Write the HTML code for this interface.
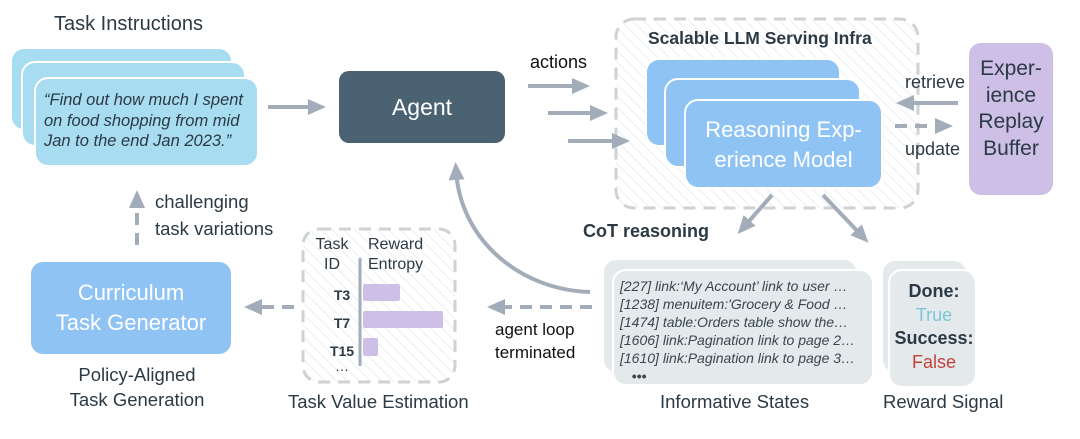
<!DOCTYPE html>
<html><head><meta charset="utf-8"><style>
body{margin:0;background:#fff;}
#c{position:relative;width:1080px;height:439px;overflow:hidden;font-family:"Liberation Sans",sans-serif;color:#2b3a44;}
.a{position:absolute;}
.card{position:absolute;border-radius:14px;border:2px solid #fff;box-sizing:border-box;}
.t{position:absolute;white-space:nowrap;}
</style></head><body><div id="c">
<svg class="a" style="left:0;top:0" width="1080" height="439">
<defs>
<pattern id="h" width="8" height="8" patternUnits="userSpaceOnUse" patternTransform="rotate(-45)"><line x1="0" y1="0" x2="0" y2="8" stroke="#eceef0" stroke-width="2"/></pattern>
<marker id="mb" markerWidth="18" markerHeight="16" refX="10" refY="8" orient="auto" markerUnits="userSpaceOnUse"><path d="M0,0 L18,8 L0,16 z" fill="#a3adba"/></marker>
</defs>
<rect x="616" y="19" width="302" height="189" rx="18" fill="url(#h)" stroke="#cfd2d5" stroke-width="3" stroke-dasharray="12,8"/>
<rect x="303" y="229" width="152" height="153" rx="16" fill="url(#h)" stroke="#cfd2d5" stroke-width="3" stroke-dasharray="12,8"/>
<g stroke="#a3adba" stroke-width="4" fill="none">
<line x1="268" y1="107" x2="318" y2="107" marker-end="url(#mb)"/>
<line x1="528" y1="86" x2="582" y2="86" marker-end="url(#mb)"/>
<line x1="548" y1="113" x2="600" y2="113" marker-end="url(#mb)"/>
<line x1="568" y1="141" x2="622" y2="141" marker-end="url(#mb)"/>
<line x1="958" y1="103" x2="904" y2="103" marker-end="url(#mb)"/>
<line x1="895" y1="126" x2="945" y2="126" stroke-dasharray="12,8" marker-end="url(#mb)"/>
<line x1="772" y1="195" x2="743" y2="228" marker-end="url(#mb)"/>
<line x1="823" y1="195" x2="863" y2="237" marker-end="url(#mb)"/>
<path d="M590,292 C520,290 460,240 456,170" marker-end="url(#mb)"/>
<line x1="592" y1="307" x2="495" y2="307" stroke-dasharray="12,8" marker-end="url(#mb)"/>
<line x1="294" y1="307" x2="252" y2="307" stroke-dasharray="12,8" marker-end="url(#mb)"/>
<line x1="137" y1="245" x2="137" y2="198" stroke-dasharray="12,8" marker-end="url(#mb)"/>
<line x1="360" y1="258" x2="360" y2="366" stroke-width="3"/>
</g>
<g fill="#cdbfe6"><rect x="363" y="284" width="37" height="17" rx="2"/><rect x="363" y="311" width="80" height="17" rx="2"/><rect x="363" y="338" width="15" height="18" rx="2"/></g>
</svg>
<div class="t" style="left:54px;top:13px;font-size:20px">Task Instructions</div>
<div class="card" style="left:10px;top:47px;width:223px;height:84px;background:#a8dcf0"></div>
<div class="card" style="left:21px;top:61px;width:225px;height:86px;background:#a8dcf0"></div>
<div class="card" style="left:34px;top:77px;width:225px;height:90px;background:#a8dcf0"></div>
<div class="t" style="left:44px;top:90px;font-size:16.5px;font-style:italic;line-height:20.5px;color:#2b3a44">“Find out how much I spent<br>on food shopping from mid<br>Jan to the end Jan 2023.”</div>
<div class="a" style="left:339px;top:71px;width:166px;height:72px;background:#4a6272;border-radius:10px;color:#fff;font-size:23px;text-align:center;line-height:72px">Agent</div>
<div class="t" style="left:530px;top:52px;font-size:18px;color:#111">actions</div>
<div class="t" style="left:648px;top:28px;font-size:17.5px;font-weight:bold;color:#2b3a44">Scalable LLM Serving Infra</div>
<div class="card" style="left:645px;top:58px;width:196px;height:89px;background:#8fc3f3"></div>
<div class="card" style="left:664px;top:78px;width:197px;height:90px;background:#8fc3f3"></div>
<div class="card" style="left:684px;top:99px;width:199px;height:90px;background:#8fc3f3"></div>
<div class="t" style="left:684px;top:115px;width:199px;text-align:center;font-size:22px;line-height:30px;color:#fff">Reasoning Exp-<br>erience Model</div>
<div class="t" style="left:905px;top:72px;font-size:18px">retrieve</div>
<div class="t" style="left:905px;top:139px;font-size:18px">update</div>
<div class="a" style="left:969px;top:43px;width:84px;height:152px;background:#cdbfe6;border-radius:12px;text-align:center;font-size:21px;line-height:26.5px;color:#2b3a44;padding-top:13px;box-sizing:border-box">Exper-<br>ience<br>Replay<br>Buffer</div>
<div class="t" style="left:583px;top:221px;font-size:18px;font-weight:bold">CoT reasoning</div>
<div class="card" style="left:602px;top:258px;width:256px;height:116px;background:#e4e9ec"></div>
<div class="card" style="left:612px;top:269px;width:262px;height:117px;background:#e4e9ec"></div>
<div class="t" style="left:620px;top:277px;font-size:14px;font-style:italic;line-height:18px;color:#3a4650">[227] link:‘My Account’ link to user …<br>[1238] menuitem:'Grocery &amp; Food …<br>[1474] table:Orders table show the…<br>[1606] link:Pagination link to page 2…<br>[1610] link:Pagination link to page 3…<br>&nbsp;&nbsp;&nbsp;<b>•••</b></div>
<div class="card" style="left:881px;top:259px;width:87px;height:115px;background:#e4e9ec"></div>
<div class="card" style="left:888px;top:269px;width:89px;height:119px;background:#e4e9ec"></div>
<div class="t" style="left:888px;top:280px;width:92px;text-align:center;font-size:18px;line-height:23.5px"><b>Done:</b><br><span style="color:#7cc7d7">True</span><br><b>Success:</b><br><span style="color:#c0443a">False</span></div>
<div class="t" style="left:660px;top:391px;font-size:18.5px">Informative States</div>
<div class="t" style="left:883px;top:391px;font-size:18.5px">Reward Signal</div>
<div class="t" style="left:495px;top:318px;font-size:17px;line-height:23px;color:#111">agent loop<br>terminated</div>
<div class="t" style="left:314px;top:235px;width:36px;text-align:center;font-size:16px;line-height:20px">Task<br>ID</div>
<div class="t" style="left:368px;top:235px;font-size:16px;line-height:20px;text-align:center">Reward<br>Entropy</div>
<div class="t" style="left:328px;top:281px;font-size:14px;font-weight:bold;line-height:28px;text-align:center;width:28px">T3<br>T7<br>T15</div>
<div class="t" style="left:335px;top:358px;font-size:14px">…</div>
<div class="t" style="left:288px;top:391px;font-size:18.5px">Task Value Estimation</div>
<div class="a" style="left:31px;top:262px;width:200px;height:92px;background:#8fc3f3;border-radius:12px;text-align:center;color:#fff;font-size:22px;line-height:30px;padding-top:16px;box-sizing:border-box">Curriculum<br>Task Generator</div>
<div class="t" style="left:37px;top:362px;width:200px;text-align:center;font-size:18.5px;line-height:25px">Policy-Aligned<br>Task Generation</div>
<div class="t" style="left:155px;top:188px;font-size:18.5px;line-height:27px">challenging<br>task variations</div>
</div></body></html>
